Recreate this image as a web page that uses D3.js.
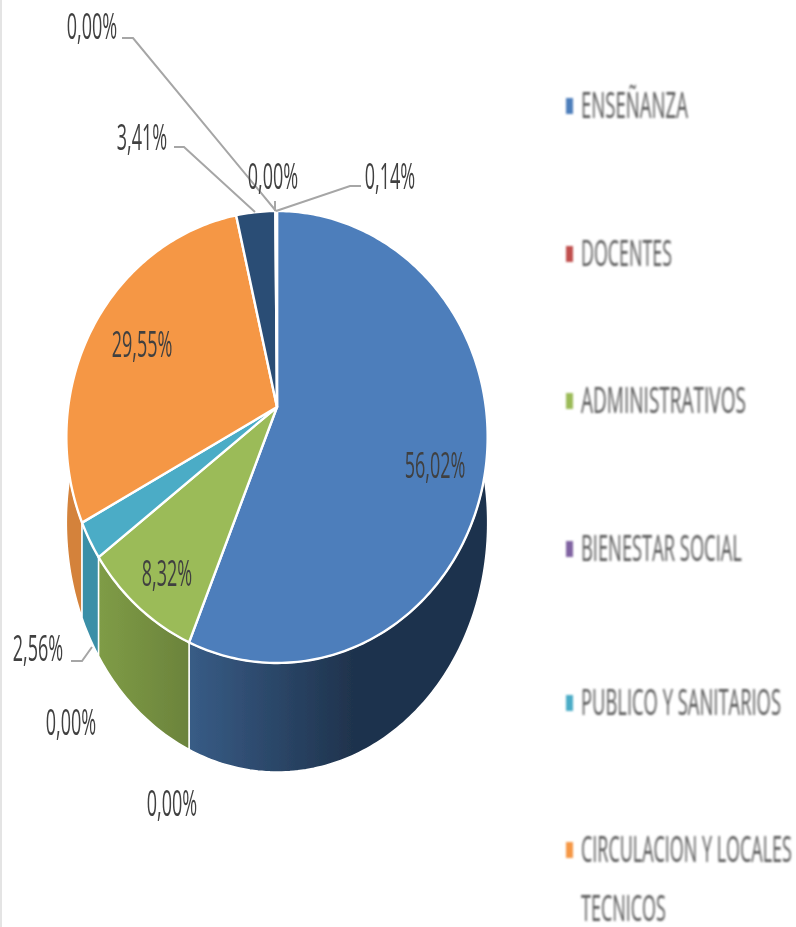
<!DOCTYPE html>
<html>
<head>
<meta charset="utf-8">
<title>Pie</title>
<script src="https://cdnjs.cloudflare.com/ajax/libs/d3/7.8.5/d3.min.js"></script>
<style>
	html, body { margin: 0; padding: 0; background: #fff; }
	svg { display: block; }
	text { font-family: "Open Sans", sans-serif; fill: #404040; }
</style>
</head>
<body>
<div class="chart"></div>
<script>
// slices, clockwise from twelve o'clock (last ones have no legend entry in the picture)
var sliceNames = ["ENSEÑANZA", "DOCENTES", "ADMINISTRATIVOS", "BIENESTAR SOCIAL", "PUBLICO Y SANITARIOS", "CIRCULACION Y LOCALES TECNICOS", "OTROS 1", "OTROS 2", "OTROS 3", "OTROS 4"];
var sliceValues = [56.02, 0, 8.32, 0, 2.56, 29.55, 3.41, 0, 0, 0.14];
var legendLines = [["ENSEÑANZA"], ["DOCENTES"], ["ADMINISTRATIVOS"], ["BIENESTAR SOCIAL"], ["PUBLICO Y SANITARIOS"], ["CIRCULACION Y LOCALES", "TECNICOS"]];

var topColors = ["#4d7ebb", "#c0504d", "#9bbb59", "#8064a2", "#4bacc6", "#f59745", "#2c4d75", "#772c2a", "#5f497a", "#2c4d75"];
var sideFrom = ["#385c86", "#8c3836", "#7f9c46", "#5f497a", "#3b8fa7", "#d4823a", "#1f3650", "#551f1e", "#443457", "#1f3650"];
var sideTo = ["#1f334d", "#8c3836", "#6b833c", "#5f497a", "#3b8fa7", "#d4823a", "#1f3650", "#551f1e", "#443457", "#1f3650"];

var width = 796;
var height = 927;

// label layout, index follows sliceValues
var labelAt = [[435, 465], [172, 803], [167, 573], [71, 722], [38, 648], [142, 344], [142, 137], [92, 26], [273, 176], [390, 176]];
var leaders = [
	{slice: 4, pts: [[71, 661], [82, 661], [92, 647]]},
	{slice: 6, pts: [[174, 147], [184, 147], [255, 212]]},
	{slice: 7, pts: [[122, 38], [133, 38], [276, 211]]},
	{slice: 8, pts: [[275, 201], [275, 211]]},
	{slice: 9, pts: [[361, 186], [350, 186], [276, 211]]}
];

// legend layout
var legendY = [106, 254, 401, 549, 703, 850];
var legendWidths = [[107], [91], [165], [161], [200], [211, 85]];

// perspective of the tilted disc: the centre of the pie is not the centre of the ellipse
var cx = 277, cy = 407, persp = 0.1327, radX = 208.8, radY = 222;

function rim(a) {
	var w = 1 + persp * Math.cos(a);
	return [cx + radX * Math.sin(a) / w, cy - radY * Math.cos(a) / w];
}

function rimBottom(a) {
	var p = rim(a);
	return [p[0], p[1] + 82 - 27 * Math.cos(a)];
}

function sample(a0, a1) {
	var n = Math.max(2, Math.ceil((a1 - a0) * 60));
	return d3.range(n + 1).map(function(i) { return a0 + (a1 - a0) * i / n; });
}

var pie = d3.pie().sort(null).value(function(d) { return d; }).startAngle(0).endAngle(2 * Math.PI);
var arcs = pie(sliceValues).map(function(d, i) { d.i = i; return d; });
var drawn = arcs.filter(function(d) { return d.value > 0; });

var line = d3.line();

var svg = d3.select(".chart")
	.append("svg")
	.attr("width", width)
	.attr("height", height);

var defs = svg.append("defs");
defs.append("filter").attr("id", "soft")
	.append("feGaussianBlur").attr("stdDeviation", 0.55);
defs.append("filter").attr("id", "softer")
	.append("feGaussianBlur").attr("stdDeviation", 0.8);

drawn.forEach(function(d) {
	var xs = sample(d.startAngle, d.endAngle).map(function(a) { return rim(a)[0]; });
	var grad = defs.append("linearGradient")
		.attr("id", "side" + d.i)
		.attr("gradientUnits", "userSpaceOnUse")
		.attr("x1", d.i == 0 ? 189 : d3.min(xs)).attr("x2", d.i == 0 ? 353 : d3.max(xs))
		.attr("y1", 0).attr("y2", 0);
	grad.append("stop").attr("offset", 0).attr("stop-color", sideFrom[d.i]);
	grad.append("stop").attr("offset", 1).attr("stop-color", sideTo[d.i]);
});

svg.append("rect").attr("x", 0).attr("y", 0).attr("width", 2).attr("height", height).attr("fill", "#e4e4e4");

var pieG = svg.append("g").attr("filter", "url(#soft)");

// Append side walls, back to front
pieG.selectAll(".side")
	.data(drawn.slice().sort(function(a, b) { return Math.abs(b.startAngle - 3.6) - Math.abs(a.startAngle - 3.6); }))
	.enter()
	.append("path")
	.attr("class", "side")
	.attr("d", function(d) {
		var as = sample(d.startAngle, d.endAngle);
		return line(as.map(rim).concat(as.slice().reverse().map(rimBottom))) + "Z";
	})
	.attr("fill", function(d) { return "url(#side" + d.i + ")"; })
	.attr("stroke", "#fff")
	.attr("stroke-width", 1.5);

// Append top face
pieG.selectAll(".slice")
	.data(drawn)
	.enter()
	.append("path")
	.attr("class", "slice")
	.attr("d", function(d) {
		return line([[cx, cy]].concat(sample(d.startAngle, d.endAngle).map(rim))) + "Z";
	})
	.attr("fill", function(d) { return topColors[d.i]; })
	.attr("stroke", "#fff")
	.attr("stroke-width", 2.4)
	.attr("stroke-linejoin", "round");

// Append leader lines
svg.append("g").attr("filter", "url(#soft)")
	.selectAll("path")
	.data(leaders)
	.enter()
	.append("path")
	.attr("d", function(d) { return line(d.pts); })
	.attr("fill", "none")
	.attr("stroke", "#a6a6a6")
	.attr("stroke-width", 2);

// Append value labels
svg.append("g").attr("filter", "url(#soft)")
	.selectAll("text")
	.data(arcs)
	.enter()
	.append("text")
	.attr("transform", function(d) {
		var p = labelAt[d.i];
		return "translate(" + p[0] + "," + (p[1] + 13) + ") scale(0.5,1)";
	})
	.attr("text-anchor", "middle")
	.attr("font-size", 36)
	.text(function(d) { return d.value.toFixed(2).replace(".", ",") + "%"; });

// Append legend
var legend = svg.append("g").attr("filter", "url(#softer)")
	.selectAll("g")
	.data(legendLines)
	.enter()
	.append("g")
	.attr("transform", function(d, i) { return "translate(566," + legendY[i] + ")"; });

legend.append("rect")
	.attr("x", 0).attr("y", -8)
	.attr("width", 7).attr("height", 16)
	.attr("fill", function(d, i) { return topColors[i]; });

legend.each(function(d, row) {
	d3.select(this).selectAll("text")
		.data(d)
		.enter()
		.append("text")
		.attr("font-size", 36)
		.style("fill", "#595959")
		.text(function(t) { return t; })
		.attr("transform", function(t, i) {
			// squeeze each line to the width it has in the picture
			var sx = legendWidths[row][i] / this.getComputedTextLength();
			return "translate(15," + (12 + i * 59) + ") scale(" + sx + ",1)";
		});
});
</script>
</body>
</html>
